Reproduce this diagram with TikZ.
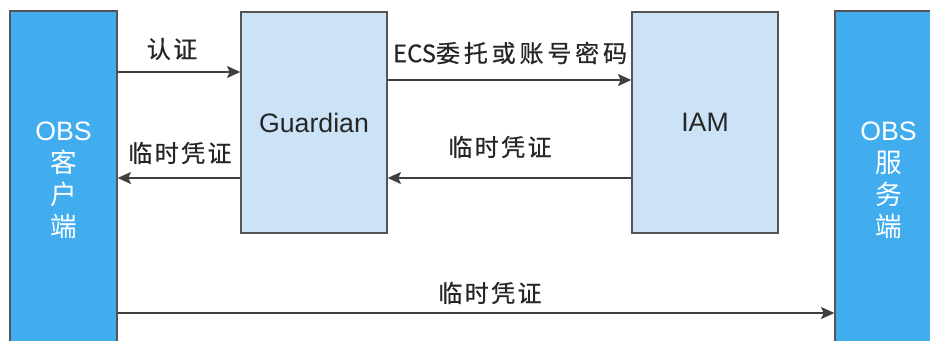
\documentclass[tikz,border=0pt]{standalone}
\usepackage{fontspec}
\setmainfont{Liberation Sans}
\newfontfamily\cjk{Noto Sans CJK SC}
\usepackage{tikz}
\usetikzlibrary{arrows.meta,positioning}
\definecolor{obsblue}{RGB}{66,173,238}
\definecolor{svcblue}{RGB}{204,227,247}
\definecolor{edgegray}{RGB}{85,85,85}
\definecolor{flowgray}{RGB}{64,64,64}
\tikzset{
  endbox/.style={rectangle, draw=edgegray, line width=1pt, fill=obsblue,
                 text=white, inner sep=0pt, align=center,
                 minimum width=80.25pt, minimum height=254.25pt,
                 font=\fontsize{20}{24}\selectfont},
  svcbox/.style={rectangle, draw=edgegray, line width=1pt, fill=svcblue,
                 text=black!85, inner sep=0pt,
                 minimum width=109.5pt, minimum height=165.75pt,
                 font=\fontsize{20}{24}\selectfont},
  flow/.style={-{Stealth[length=10pt,width=9pt,inset=2pt]}, line width=1.2pt, flowgray},
  lbl/.style={inner sep=0pt, text=black!85,
              font=\cjk\fontsize{18}{20}\selectfont\addfontfeature{FakeBold=0.6}},
}

\begin{document}
\begin{tikzpicture}[x=0.75pt, y=-0.75pt]
  \clip (0,0) rectangle (930,340);

  % endpoints and services
  \node[endbox] (client) at (63.5,180.5) {OBS\\{\cjk 客}\\{\cjk 户}\\{\cjk 端}};
  \node[endbox] (server) at (888.5,180.5) {OBS\\{\cjk 服}\\{\cjk 务}\\{\cjk 端}};
  \node[svcbox] (guardian) at (314,122.5) {Guardian};
  \node[svcbox] (iam) at (705,122.5) {IAM};

  % requests
  \draw[flow] (client.east |- 0,72) -- (guardian.west |- 0,72);
  \node[lbl] (authlbl) at (172,49) {\addfontfeature{LetterSpace=10}认证};
  \draw[flow] (guardian.east |- 0,80) -- (iam.west |- 0,80);
  \node[lbl] (ecslbl) at (510,53) {ECS{\addfontfeature{LetterSpace=16}委托或账号密码}};

  % temporary credentials back and on
  \draw[flow] (iam.west |- 0,178) -- (guardian.east |- 0,178);
  \node[lbl] (credlblA) at (500,147) {\addfontfeature{LetterSpace=10}临时凭证};
  \draw[flow] (guardian.west |- 0,178) -- (client.east |- 0,178);
  \node[lbl] (credlblB) at (180,153) {\addfontfeature{LetterSpace=10}临时凭证};
  \draw[flow] (client.east |- 0,313) -- (server.west |- 0,313);
  \node[lbl] (credlblC) at (490,293) {\addfontfeature{LetterSpace=10}临时凭证};
\end{tikzpicture}
\end{document}
